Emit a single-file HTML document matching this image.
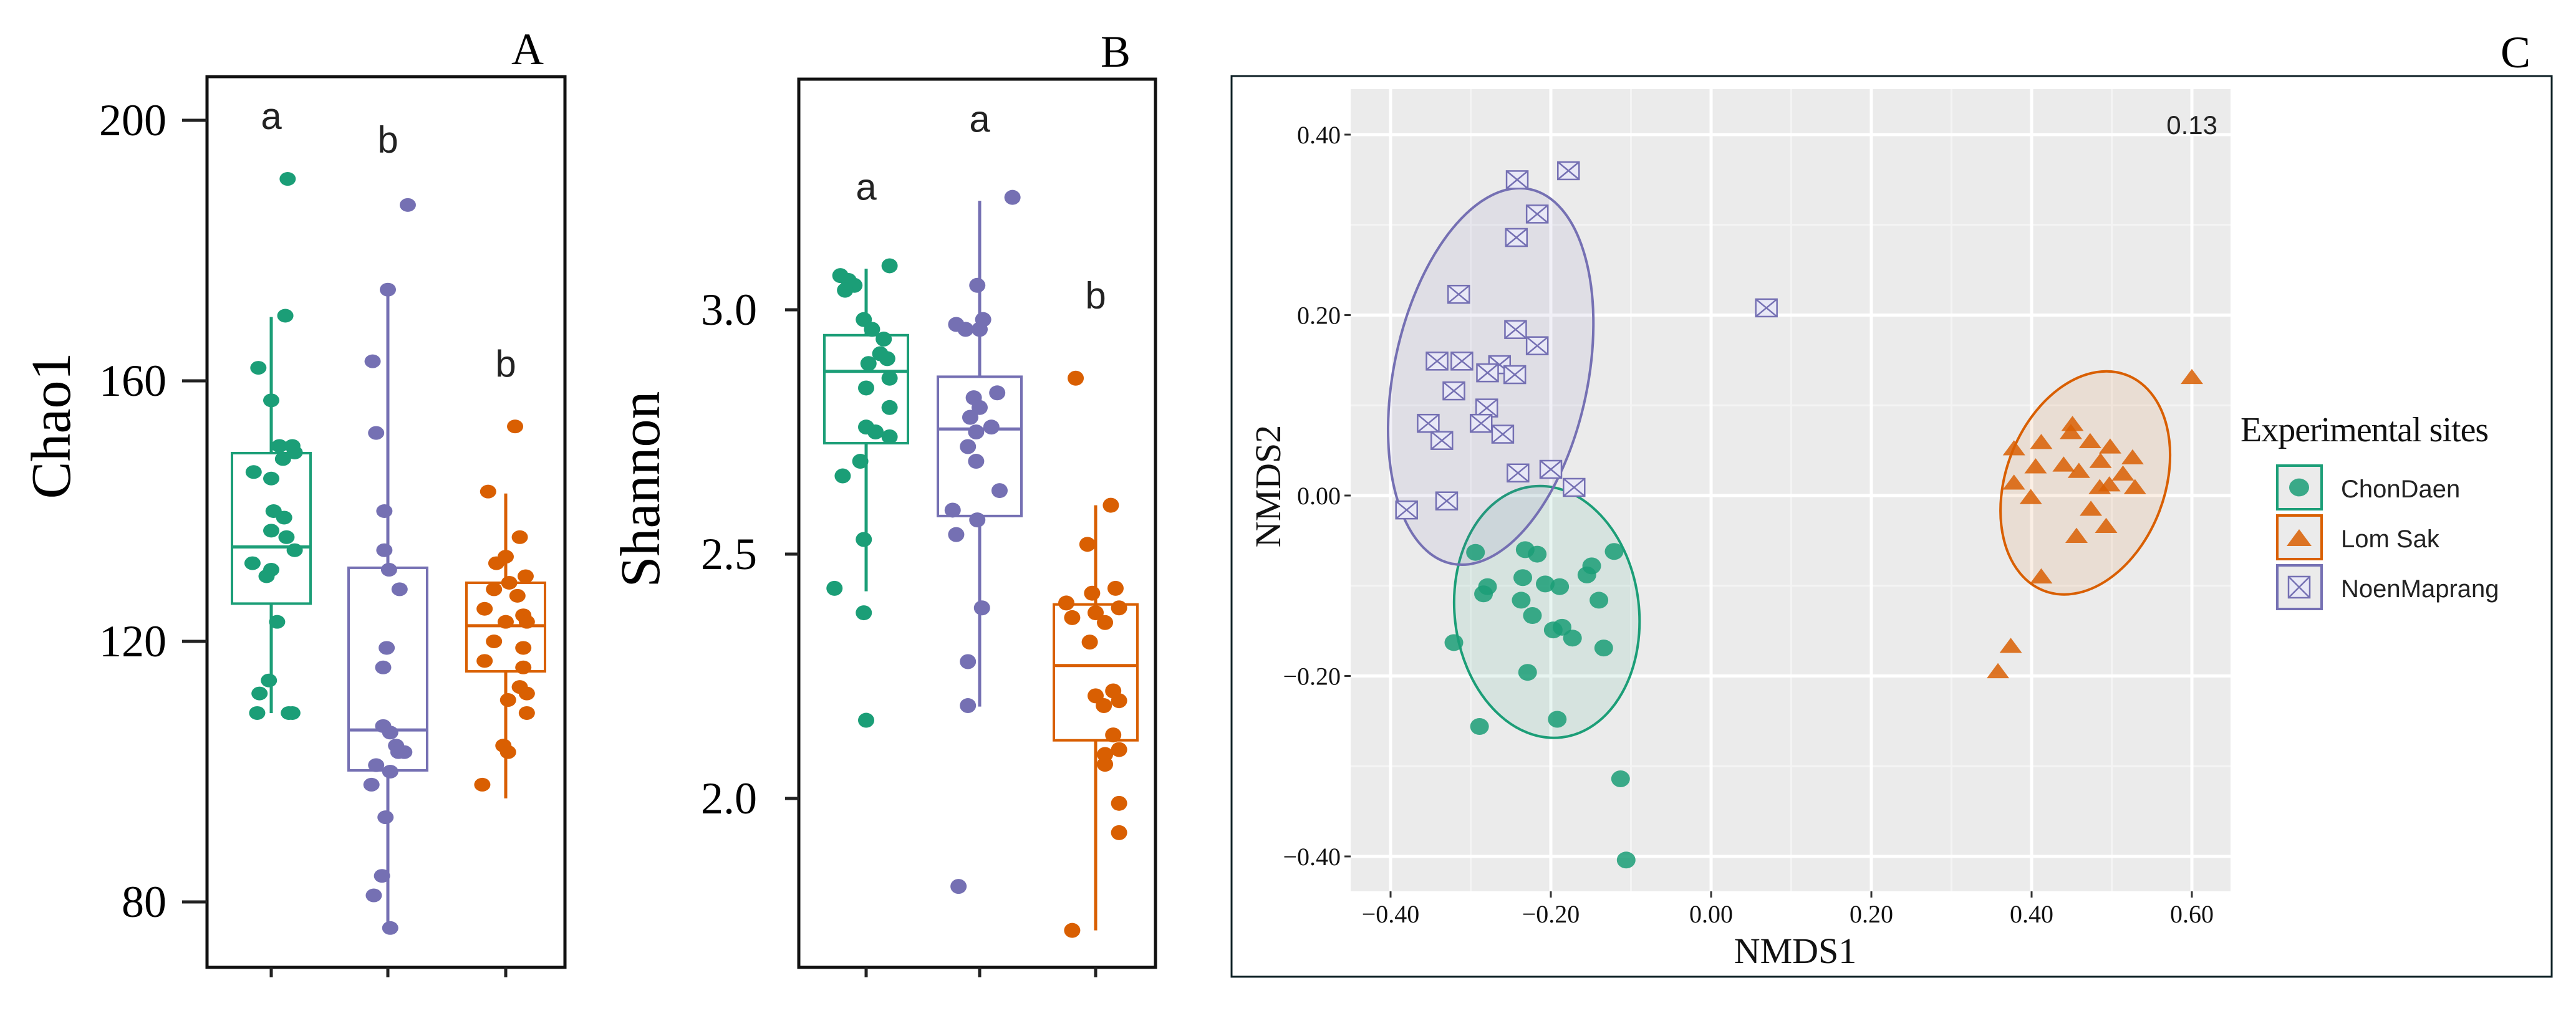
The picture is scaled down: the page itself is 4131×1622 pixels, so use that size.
<!DOCTYPE html>
<html><head><meta charset="utf-8"><style>
html,body{margin:0;padding:0;background:#fff;}
svg{display:block;}
text{font-family:"Liberation Serif",serif;}
.sans{font-family:"Liberation Sans",sans-serif;}
</style></head><body>
<svg id="fig" width="4131" height="1622" viewBox="0 0 4131 1622" xmlns="http://www.w3.org/2000/svg">
<g id="pa"></g>
<g id="pb"></g>
<g id="pc"></g>
</svg>
<script>
// ---------- Panel A data (Chao1) ----------
const groupsAB = ["ChonDaen","NoenMaprang","Lom Sak"];
const colorsAB = ["#1b9e77","#7570b3","#d95f02"];
const aTicks = [80,120,160,200];
const aLetters = ["a","b","b"];
const aLetterVals = [200,196.4,162];
const aBoxQ1 = [125.8,100.2,115.4];
const aBoxMed = [134.5,106.4,122.4];
const aBoxQ3 = [148.9,131.3,129];
const aWhiskLo = [109,75.9,95.9];
const aWhiskHi = [169.8,173.8,142.7];
const aPtsGreen = [191,170,162,157,150,150,149,148,146,145,140,139,137,136,134,132,131,130,123,114,112,109,109,109];
const aJitGreen = [0.14,0.12,-0.11,0,0.07,0.18,0.2,0.1,-0.15,0,0.02,0.11,0,0.13,0.2,-0.16,0,-0.04,0.05,-0.02,-0.1,-0.12,0.15,0.18];
const aPtsPurple = [187,174,163,152,140,134,131,128,119,116,107,106,104,103,103,101,100,98,93,84,81,76];
const aJitPurple = [0.17,0,-0.13,-0.1,-0.03,-0.03,0.01,0.1,-0.01,-0.04,-0.04,0.02,0.07,0.14,0.09,-0.1,0.02,-0.14,-0.02,-0.05,-0.12,0.02];
const aPtsOrange = [153,143,136,133,132,130,129,128,127,125,124,123,123,120,119,117,116,113,112,111,109,104,103,98];
const aJitOrange = [0.08,-0.15,0.12,0,-0.08,0.17,0.03,-0.1,0.1,-0.18,0.15,0,0.18,-0.1,0.15,-0.18,0.15,0.12,0.18,0.02,0.18,-0.02,0.02,-0.2];

// ---------- Panel B data (Shannon) ----------
const bTicks = [2.0,2.5,3.0];
const bLetters = ["a","a","b"];
const bLetterVals = [3.243,3.382,3.021];
const bBoxQ1 = [2.727,2.578,2.119];
const bBoxMed = [2.874,2.756,2.272];
const bBoxQ3 = [2.948,2.863,2.397];
const bWhiskLo = [2.424,2.188,1.73];
const bWhiskHi = [3.084,3.223,2.60];
const bPtsGreen = [3.09,3.07,3.06,3.05,3.04,2.98,2.96,2.94,2.91,2.90,2.89,2.86,2.84,2.80,2.76,2.75,2.74,2.69,2.66,2.53,2.43,2.38,2.16];
const bJitGreen = [0.2,-0.22,-0.15,-0.1,-0.18,-0.02,0.05,0.15,0.12,0.18,0.02,0.2,0,0.2,0,0.08,0.2,-0.05,-0.2,-0.02,-0.27,-0.02,0];
const bPtsPurple = [3.23,3.05,2.98,2.97,2.96,2.96,2.83,2.82,2.80,2.78,2.76,2.75,2.72,2.69,2.63,2.59,2.57,2.54,2.39,2.28,2.19,1.82];
const bJitPurple = [0.28,-0.02,0.03,-0.2,-0.12,0,0.15,-0.05,0,-0.08,0.1,-0.03,-0.1,-0.03,0.17,-0.23,-0.02,-0.2,0.02,-0.1,-0.1,-0.18];
const bPtsOrange = [2.86,2.60,2.52,2.43,2.42,2.40,2.39,2.38,2.37,2.36,2.32,2.22,2.21,2.20,2.19,2.13,2.10,2.09,2.07,1.99,1.93,1.73];
const bJitOrange = [-0.17,0.13,-0.07,0.17,-0.03,-0.25,0.2,0,-0.2,0.08,-0.05,0.15,0,0.2,0.07,0.15,0.2,0.08,0.08,0.2,0.2,-0.2];

// ---------- Panel C data (NMDS) ----------
const cXTicks = [-0.4,-0.2,0,0.2,0.4,0.6];
const cYTicks = [-0.4,-0.2,0,0.2,0.4];
const cStress = "0.13";
const chonX = [-0.294,-0.232,-0.217,-0.121,-0.149,-0.155,-0.235,-0.279,-0.284,-0.207,-0.189,-0.237,-0.140,-0.223,-0.197,-0.186,-0.173,-0.134,-0.321,-0.229,-0.192,-0.289,-0.113,-0.106];
const chonY = [-0.063,-0.060,-0.065,-0.062,-0.078,-0.088,-0.091,-0.101,-0.109,-0.098,-0.101,-0.116,-0.116,-0.133,-0.149,-0.146,-0.158,-0.169,-0.163,-0.196,-0.248,-0.256,-0.314,-0.404];
const lomX = [0.600,0.378,0.412,0.451,0.449,0.473,0.498,0.526,0.405,0.440,0.459,0.486,0.514,0.378,0.497,0.485,0.529,0.399,0.474,0.456,0.493,0.412,0.374,0.358];
const lomY = [0.131,0.052,0.059,0.079,0.070,0.060,0.054,0.042,0.032,0.034,0.027,0.038,0.024,0.014,0.012,0.009,0.009,-0.002,-0.015,-0.045,-0.034,-0.090,-0.167,-0.195];
const noenX = [-0.242,-0.178,-0.217,-0.243,-0.315,-0.244,-0.217,-0.342,-0.311,-0.264,-0.279,-0.245,-0.321,-0.280,-0.353,-0.336,-0.287,-0.260,-0.241,-0.200,-0.171,-0.380,-0.330,0.069];
const noenY = [0.350,0.360,0.312,0.286,0.223,0.184,0.166,0.149,0.149,0.145,0.136,0.134,0.116,0.097,0.080,0.061,0.080,0.068,0.025,0.029,0.009,-0.016,-0.006,0.208];
const ellCX = [-0.205,0.467,-0.275];
const ellCY = [-0.129,0.014,0.132];
const ellA = [0.140,0.128,0.212];   // semi-major (in y data units)
const ellB = [0.115,0.099,0.121];   // semi-minor (in x data units)
const ellRot = [-6.8,20.9,11.8];
const legendLabels = ["ChonDaen","Lom Sak","NoenMaprang"];
const colorsC = ["#1b9e77","#d95f02","#7570b3"];

const NS="http://www.w3.org/2000/svg";
function mk(parent,tag,attrs,txt){const e=document.createElementNS(NS,tag);for(const k in attrs)e.setAttribute(k,attrs[k]);if(txt!==undefined)e.textContent=txt;parent.appendChild(e);return e;}

// ---------- generic box panel ----------
function boxPanel(g,cfg){
  const {x0,x1,y0,y1,xs,ys,ticks,fmt,q1,med,q3,lo,hi,pts,jit,letters,lvals,ylabel,ylx,yly,panel,plx,tickR,tickLblR,dotRx,dotRy,boxHalf}=cfg;
  const fr=mk(g,'rect',{x:x0,y:y0,width:x1-x0,height:y1-y0,fill:'none',stroke:'#111','stroke-width':5});
  
  
  ticks.forEach(t=>{
    const tl=mk(g,'line',{x1:x0-tickR,x2:x0,y1:ys(t),y2:ys(t),stroke:'#222','stroke-width':5});
    
    
    const tx=mk(g,'text',{x:tickLblR,y:ys(t)+24,'text-anchor':'end','font-size':72,fill:'#000'},fmt(t));
    
    
  });
  const yl=mk(g,'text',{x:ylx,y:yly,'text-anchor':'middle','font-size':90,fill:'#000',transform:`rotate(-90 ${ylx} ${yly})`},ylabel);
  
  
  const pl=mk(g,'text',{x:plx,y:y0-20,'text-anchor':'middle','font-size':72,fill:'#000'},panel);
  
  
  for(let i=0;i<3;i++){
    const cx=xs(i),c=colorsAB[i];
    const xt=mk(g,'line',{x1:cx,x2:cx,y1:y1,y2:y1+16,stroke:'#222','stroke-width':5});
    
    
    const gg=mk(g,'g',{});
    
    
    mk(gg,'line',{x1:cx,x2:cx,y1:ys(hi[i]),y2:ys(q3[i]),stroke:c,'stroke-width':5});
    mk(gg,'line',{x1:cx,x2:cx,y1:ys(q1[i]),y2:ys(lo[i]),stroke:c,'stroke-width':5});
    mk(gg,'rect',{x:cx-boxHalf,y:ys(q3[i]),width:boxHalf*2,height:ys(q1[i])-ys(q3[i]),fill:'none',stroke:c,'stroke-width':4});
    mk(gg,'line',{x1:cx-boxHalf,x2:cx+boxHalf,y1:ys(med[i]),y2:ys(med[i]),stroke:c,'stroke-width':5});
    pts[i].forEach((v,k)=>{
      const d=mk(gg,'ellipse',{cx:cx+jit[i][k]*188,cy:ys(v),rx:dotRx,ry:dotRy,fill:c});
      
      
    });
    const lt=mk(g,'text',{class:'sans',x:cx,y:ys(lvals[i])+14,'text-anchor':'middle','font-size':60,fill:'#222'},letters[i]);
    
    
  }
}

// Panel A
const xsA=i=>[435,622,811][i];
const ysA=v=>193+(200-v)*10.45;
boxPanel(document.getElementById('pa'),{x0:332,x1:906,y0:123,y1:1552,xs:xsA,ys:ysA,ticks:aTicks,fmt:t=>String(t),
 q1:aBoxQ1,med:aBoxMed,q3:aBoxQ3,lo:aWhiskLo,hi:aWhiskHi,pts:[aPtsGreen,aPtsPurple,aPtsOrange],jit:[aJitGreen,aJitPurple,aJitOrange],
 letters:aLetters,lvals:aLetterVals,ylabel:'Chao1',ylx:112,yly:683,panel:'A',plx:846,tickR:40,tickLblR:267,dotRx:13,dotRy:11,boxHalf:63});
// Panel B
const xsB=i=>[1389,1571,1757][i];
const ysB=v=>497+(3.0-v)*784;
boxPanel(document.getElementById('pb'),{x0:1281,x1:1853,y0:127,y1:1552,xs:xsB,ys:ysB,ticks:bTicks,fmt:t=>t.toFixed(1),
 q1:bBoxQ1,med:bBoxMed,q3:bBoxQ3,lo:bWhiskLo,hi:bWhiskHi,pts:[bPtsGreen,bPtsPurple,bPtsOrange],jit:[bJitGreen,bJitPurple,bJitOrange],
 letters:bLetters,lvals:bLetterVals,ylabel:'Shannon',ylx:1057,yly:785,panel:'B',plx:1789,tickR:22,tickLblR:1214,dotRx:13,dotRy:12,boxHalf:67});

// ---------- Panel C ----------
(function(){
  const g=document.getElementById('pc');
  const xC=v=>2744+v*1285, yC=v=>795-v*1447.5;
  const fr=mk(g,'rect',{x:1975,y:122,width:2117,height:1445,fill:'none',stroke:'#0d2025','stroke-width':3});
  
  
  const bg=mk(g,'rect',{x:2166,y:143,width:1411,height:1287,fill:'#ebebeb'});
  
  
  for(let i=0;i<cXTicks.length-1;i++){const m=(cXTicks[i]+cXTicks[i+1])/2;mk(g,'line',{x1:xC(m),x2:xC(m),y1:143,y2:1430,stroke:'#f4f4f4','stroke-width':3});}
  for(let i=0;i<cYTicks.length-1;i++){const m=(cYTicks[i]+cYTicks[i+1])/2;mk(g,'line',{x1:2166,x2:3577,y1:yC(m),y2:yC(m),stroke:'#f4f4f4','stroke-width':3});}
  cXTicks.forEach(t=>{
    const gl=mk(g,'line',{x1:xC(t),x2:xC(t),y1:143,y2:1430,stroke:'#fff','stroke-width':5});
    
    
    mk(g,'line',{x1:xC(t),x2:xC(t),y1:1430,y2:1440,stroke:'#333','stroke-width':3});
    const tx=mk(g,'text',{x:xC(t),y:1480,'text-anchor':'middle','font-size':40,fill:'#111'},(t<0?'\u2212':'')+Math.abs(t).toFixed(2));
    
    
  });
  cYTicks.forEach(t=>{
    const gl=mk(g,'line',{x1:2166,x2:3577,y1:yC(t),y2:yC(t),stroke:'#fff','stroke-width':5});
    
    
    mk(g,'line',{x1:2156,x2:2166,y1:yC(t),y2:yC(t),stroke:'#333','stroke-width':3});
    const tx=mk(g,'text',{x:2150,y:yC(t)+14,'text-anchor':'end','font-size':40,fill:'#111'},(t<0?'\u2212':'')+Math.abs(t).toFixed(2));
    
    
  });
  // ellipses
  for(let i=0;i<3;i++){
    const cx=xC(ellCX[i]),cy=yC(ellCY[i]);
    const e=mk(g,'ellipse',{cx:cx,cy:cy,rx:ellB[i]*1285,ry:ellA[i]*1447.5,fill:colorsC[i],'fill-opacity':0.1,stroke:colorsC[i],'stroke-width':4,transform:`rotate(${ellRot[i]} ${cx} ${cy})`});
    
    
  }
  function circle(p,x,y,r){return mk(p,'ellipse',{cx:x,cy:y,rx:r,ry:r*0.9,fill:'#1b9e77','fill-opacity':0.85});}
  function tri(p,x,y,s){return mk(p,'polygon',{points:`${x},${y-s*0.75} ${x-s},${y+s*0.6} ${x+s},${y+s*0.6}`,fill:'#d95f02','fill-opacity':0.85});}
  function sq(p,x,y,w,h){const gg=mk(p,'g',{});mk(gg,'rect',{x:x-w/2,y:y-h/2,width:w,height:h,fill:'#e8e8f6',stroke:'#7570b3','stroke-width':2.5});
    mk(gg,'path',{d:`M${x-w/2} ${y-h/2}L${x+w/2} ${y+h/2}M${x+w/2} ${y-h/2}L${x-w/2} ${y+h/2}`,stroke:'#7570b3','stroke-width':2.5,fill:'none'});return gg;}
  chonX.forEach((v,k)=>{const e=circle(g,xC(v),yC(chonY[k]),15);
    
    });
  lomX.forEach((v,k)=>{const e=tri(g,xC(v),yC(lomY[k]),18);
    
    });
  noenX.forEach((v,k)=>{const e=sq(g,xC(v),yC(noenY[k]),34,28);
    
    });
  const st=mk(g,'text',{class:'sans',x:3556,y:215,'text-anchor':'end','font-size':42,fill:'#222'},cStress);
  
  
  const xt=mk(g,'text',{x:2879,y:1545,'text-anchor':'middle','font-size':58,fill:'#111'},'NMDS1');
  
  
  const yt=mk(g,'text',{x:2053,y:780,'text-anchor':'middle','font-size':58,fill:'#111',transform:'rotate(-90 2053 780)'},'NMDS2');
  
  
  const pl=mk(g,'text',{x:4034,y:108,'text-anchor':'middle','font-size':72,fill:'#000'},'C');
  
  
  // legend
  const lg=mk(g,'g',{});
  
  
  mk(lg,'text',{x:3593,y:708,'font-size':56,fill:'#111','letter-spacing':'-1'},'Experimental sites');
  const keyY=[745,825,905];
  legendLabels.forEach((lab,i)=>{
    const ent=mk(lg,'g',{});
    
    
    mk(ent,'rect',{x:3652,y:keyY[i]+2,width:71,height:70,fill:'#ebebeb',stroke:colorsC[i],'stroke-width':4});
    const kx=3687,ky=keyY[i]+37;
    if(i===0)circle(ent,kx,ky,16);
    else if(i===1)tri(ent,kx,ky+2,20);
    else sq(ent,kx,ky,34,34);
    mk(ent,'text',{class:'sans',x:3754,y:keyY[i]+53,'font-size':40,fill:'#222'},lab);
  });
})();
</script>
</body></html>
